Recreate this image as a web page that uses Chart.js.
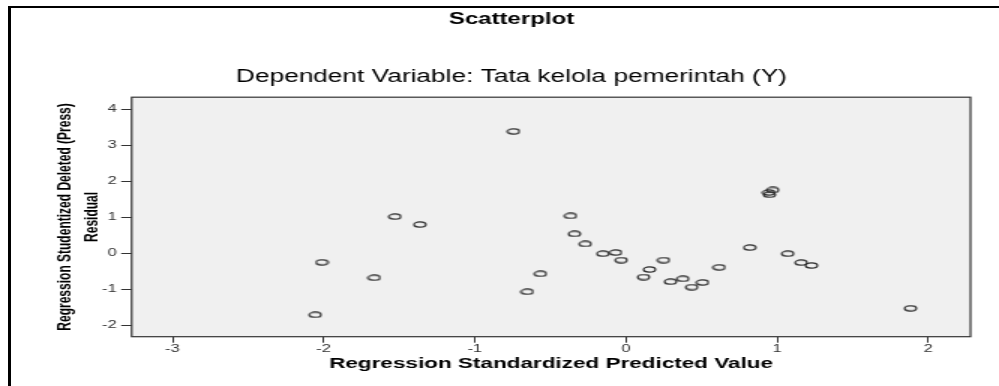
<!DOCTYPE html>
<html>
<head>
<meta charset="utf-8">
<script src="https://cdn.jsdelivr.net/npm/chart.js@4/dist/chart.umd.min.js"></script>
<style>
  html, body { margin: 0; padding: 0; background: #fff; }
  body { width: 999px; height: 386px; position: relative; overflow: hidden; }
  /* the canvas is drawn narrower and stretched, like the SPSS export */
  #chart-scatter { position: absolute; left: 0; top: 0; width: 999px !important; height: 386px !important; }
  .frame {
    position: absolute; left: 8px; top: 6px; right: 0; bottom: 0;
    border-top: 2px solid #000; border-left: 3px solid #000;
    pointer-events: none;
  }
</style>
</head>
<body>
<canvas id="chart-scatter" width="666" height="386" style="width:999px;height:386px"></canvas>
<div class="frame"></div>
<script>
// Predicted values (x) and studentized deleted residuals (y), one per case
const predicted = [
  -0.744, -1.529, -1.364, -2.012, -1.666, -2.056, -0.566, -0.654, -0.367, -0.341,
  -0.270, -0.153, -0.069, -0.032, 0.116, 0.155, 0.248, 0.294, 0.376, 0.435,
  0.506, 0.616, 0.819, 0.945, 0.949, 0.971, 1.070, 1.159, 1.227, 1.882
];
const residuals = [
  3.39, 1.02, 0.80, -0.25, -0.68, -1.71, -0.57, -1.07, 1.04, 0.54,
  0.26, -0.01, 0.02, -0.19, -0.66, -0.45, -0.19, -0.79, -0.71, -0.94,
  -0.81, -0.39, 0.16, 1.69, 1.63, 1.76, -0.01, -0.26, -0.34, -1.53
];
const xTicks = [-3, -2, -1, 0, 1, 2];
const yTicks = [-2, -1, 0, 1, 2, 3, 4];

const FONT = 'Arial, "Liberation Sans", sans-serif';

const Scatter = {
  chart: null,

  /**
   * Hollow ellipse used as point marker
   */
  marker() {
    const c = document.createElement('canvas');
    c.width = 10;
    c.height = 7;
    const g = c.getContext('2d');
    g.strokeStyle = '#2a2a2a';
    g.lineWidth = 1.2;
    g.beginPath();
    g.ellipse(5, 3.5, 3.9, 2.6, 0, 0, Math.PI * 2);
    g.stroke();
    return c;
  },

  init() {
    const ctx = document.getElementById('chart-scatter');
    if (!ctx) return;

    // grey plot background with a dark frame
    const plotFrame = {
      id: 'plotFrame',
      beforeDatasetsDraw(chart) {
        const { ctx, chartArea: a } = chart;
        ctx.save();
        ctx.fillStyle = '#f0f0f0';
        ctx.fillRect(a.left, a.top, a.right - a.left, a.bottom - a.top);
        ctx.strokeStyle = '#333';
        ctx.lineWidth = 1.2;
        ctx.strokeRect(a.left, a.top, a.right - a.left, a.bottom - a.top);
        ctx.restore();
      }
    };

    const points = predicted.map((x, i) => ({ x: x, y: residuals[i] }));

    this.chart = new Chart(ctx, {
      type: 'scatter',
      data: {
        datasets: [{
          data: points,
          pointStyle: this.marker(),
          pointRadius: 4,
          pointHoverRadius: 4
        }]
      },
      options: {
        responsive: false,
        devicePixelRatio: 1,
        animation: false,
        layout: { padding: { left: 35, right: 19, top: 0, bottom: 0 } },
        plugins: {
          legend: { display: false },
          tooltip: { enabled: false },
          title: {
            display: true,
            text: 'Scatterplot',
            color: '#000',
            font: { family: FONT, size: 16, weight: 'bold' },
            padding: { top: 10, bottom: 17 }
          },
          subtitle: {
            display: true,
            text: 'Dependent Variable: Tata kelola pemerintah (Y)',
            color: '#000',
            font: { family: FONT, size: 17.5 },
            padding: { top: 20, bottom: 10 }
          }
        },
        scales: {
          x: {
            type: 'linear',
            min: -3.27,
            max: 2.28,
            afterFit: s => { s.height = 49.3; },
            afterBuildTicks: s => { s.ticks = xTicks.map(v => ({ value: v })); },
            border: { display: false },
            grid: { drawOnChartArea: false, drawTicks: true, tickLength: 6, color: '#333' },
            ticks: { color: '#333', padding: 0, font: { family: FONT, size: 11 } },
            title: {
              display: true,
              text: 'Regression Standardized Predicted Value',
              color: '#000',
              font: { family: FONT, size: 15, weight: 'bold' },
              padding: { top: 0, bottom: 13 }
            }
          },
          y: {
            type: 'linear',
            min: -2.32,
            max: 4.34,
            afterFit: s => { s.width = 52.8; },
            afterBuildTicks: s => { s.ticks = yTicks.map(v => ({ value: v })); },
            border: { display: false },
            grid: { drawOnChartArea: false, drawTicks: true, tickLength: 7, color: '#333' },
            ticks: { color: '#333', padding: 3, font: { family: FONT, size: 11 } },
            title: {
              display: true,
              text: ['Regression Studentized Deleted (Press)', 'Residual'],
              color: '#000',
              font: { family: FONT, size: 12, weight: 'bold', lineHeight: 1.5 },
              padding: { top: 0, bottom: 0 }
            }
          }
        }
      },
      plugins: [plotFrame]
    });
  }
};

Scatter.init();
</script>
</body>
</html>
